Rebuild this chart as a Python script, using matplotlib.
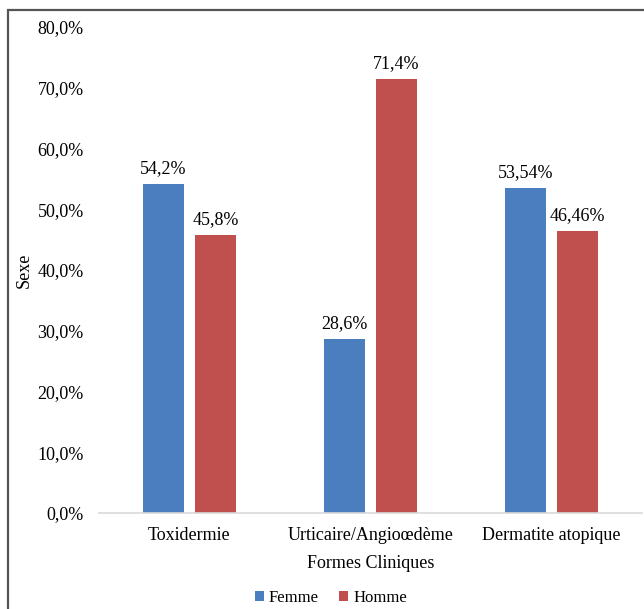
import numpy as np
import matplotlib.pyplot as plt
from matplotlib.patches import Rectangle
from matplotlib.ticker import FuncFormatter

# Répartition par sexe selon la forme clinique
formes = ["Toxidermie", "Urticaire/Angioœdème", "Dermatite atopique"]
femme = [54.2, 28.6, 53.54]
homme = [45.8, 71.4, 46.46]
femme_lbl = ["54,2%", "28,6%", "53,54%"]
homme_lbl = ["45,8%", "71,4%", "46,46%"]

plt.rcParams['font.family'] = ['Liberation Serif', 'DejaVu Serif']
fs = 13

fig = plt.figure(figsize=(6.44, 6.09), dpi=100)
ax = fig.add_axes([0.1537, 0.1576, 0.843, 0.7981])

x = np.arange(len(formes))
w = 0.227
off = 0.143
b1 = ax.bar(x - off, femme, w, color='#4A7EBF', label='Femme')
b2 = ax.bar(x + off, homme, w, color='#C0504D', label='Homme')

for bars, lbls in ((b1, femme_lbl), (b2, homme_lbl)):
    for r, t in zip(bars, lbls):
        ax.text(r.get_x() + r.get_width() / 2, r.get_height() + 1.1, t,
                ha='center', va='bottom', fontsize=fs)

ax.set_xlim(-0.5, 2.5)
ax.set_ylim(0, 80)
ax.set_yticks(np.arange(0, 81, 10))
ax.yaxis.set_major_formatter(FuncFormatter(lambda v, p: f"{v:.1f}%".replace('.', ',')))
ax.set_xticks(x)
ax.set_xticklabels(formes)
ax.tick_params(axis='both', length=0, labelsize=fs)
ax.tick_params(axis='y', pad=11)
ax.tick_params(axis='x', pad=10)

for s in ('top', 'right', 'left'):
    ax.spines[s].set_visible(False)
ax.spines['bottom'].set_color('#D9D9D9')
ax.spines['bottom'].set_linewidth(1.2)

ax.set_xlabel("Formes Cliniques", fontsize=fs, labelpad=8)
ax.set_ylabel("Sexe", fontsize=fs, labelpad=3)

ax.legend(loc='upper center', bbox_to_anchor=(0.427, -0.135), ncol=2, frameon=False,
          fontsize=12, handlelength=0.55, handleheight=0.55, handletextpad=0.3,
          columnspacing=1.2, borderpad=0.2)

# cadre autour de la figure
fig.patches.append(Rectangle((8 / 644, -0.1), 1.2, 1 - 10 / 609 + 0.1,
                             transform=fig.transFigure, fill=False,
                             edgecolor='#555555', linewidth=1.6))

fig.savefig('out.png', dpi=100)
